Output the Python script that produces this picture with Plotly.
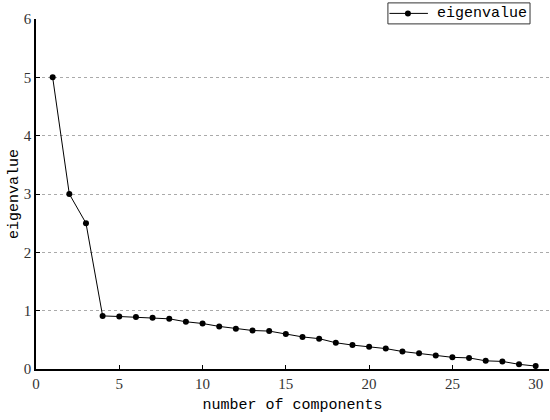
import plotly.graph_objects as go

components = list(range(1, 31))
eigenvalues = [5.0, 3.0, 2.5, 0.91, 0.90, 0.89, 0.88, 0.86, 0.81, 0.78,
               0.73, 0.69, 0.66, 0.65, 0.60, 0.55, 0.52, 0.45, 0.41, 0.38,
               0.35, 0.30, 0.27, 0.23, 0.20, 0.19, 0.14, 0.13, 0.08, 0.05]
series_name = "eigenvalue"

mono_font = "Liberation Mono"
tick_font = "Liberation Serif"

fig = go.Figure()
fig.add_trace(go.Scatter(
    x=components, y=eigenvalues, mode="lines+markers", name=series_name,
    line=dict(color="black", width=1),
    marker=dict(color="black", size=6),
    showlegend=False,
))

# Compact legend box (top right), drawn in paper coordinates
lx0, lx1, ly0, ly1 = 0.686, 0.963, 0.986, 1.046
ly = (ly0 + ly1) / 2
fig.add_shape(type="rect", xref="paper", yref="paper",
              x0=lx0, x1=lx1, y0=ly0, y1=ly1,
              line=dict(color="#333", width=1), fillcolor="white", layer="above")
fig.add_shape(type="line", xref="paper", yref="paper",
              x0=lx0 + 0.003, x1=0.764, y0=ly, y1=ly,
              line=dict(color="black", width=1), layer="above")
fig.add_shape(type="circle", xref="paper", yref="paper",
              x0=0.725 - 3 / 513, x1=0.725 + 3 / 513,
              y0=ly - 3 / 350, y1=ly + 3 / 350,
              line=dict(color="black", width=0), fillcolor="black", layer="above")
fig.add_annotation(xref="paper", yref="paper", x=0.777, y=ly,
                   xanchor="left", yanchor="middle", showarrow=False,
                   text=series_name,
                   font=dict(family=mono_font, size=15, color="black"))

fig.update_layout(
    width=550, height=420,
    margin=dict(l=36, r=1, t=19, b=51, autoexpand=False),
    paper_bgcolor="white", plot_bgcolor="white",
    showlegend=False,
    xaxis=dict(
        range=[0, 30.8], tickvals=[0, 5, 10, 15, 20, 25, 30],
        showgrid=False, zeroline=False,
        showline=True, linecolor="black", linewidth=1.5,
        ticks="inside", ticklen=4, tickcolor="black",
        tickfont=dict(family=tick_font, size=15, color="#333"),
        title=dict(text="number of components",
                   font=dict(family=mono_font, size=15, color="black"),
                   standoff=8),
    ),
    yaxis=dict(
        range=[0, 6], tickvals=[0, 1, 2, 3, 4, 5, 6],
        showgrid=True, gridcolor="#aaa", griddash="dot", gridwidth=1,
        zeroline=False,
        showline=True, linecolor="black", linewidth=1.5,
        ticks="inside", ticklen=4, tickcolor="black",
        tickfont=dict(family=tick_font, size=15, color="#333"),
        title=dict(text="eigenvalue",
                   font=dict(family=mono_font, size=15, color="black"),
                   standoff=2),
    ),
)

fig.write_html("out.html",
               config={"displayModeBar": False},
               post_script="document.body.style.margin='0';document.body.style.padding='0';")
